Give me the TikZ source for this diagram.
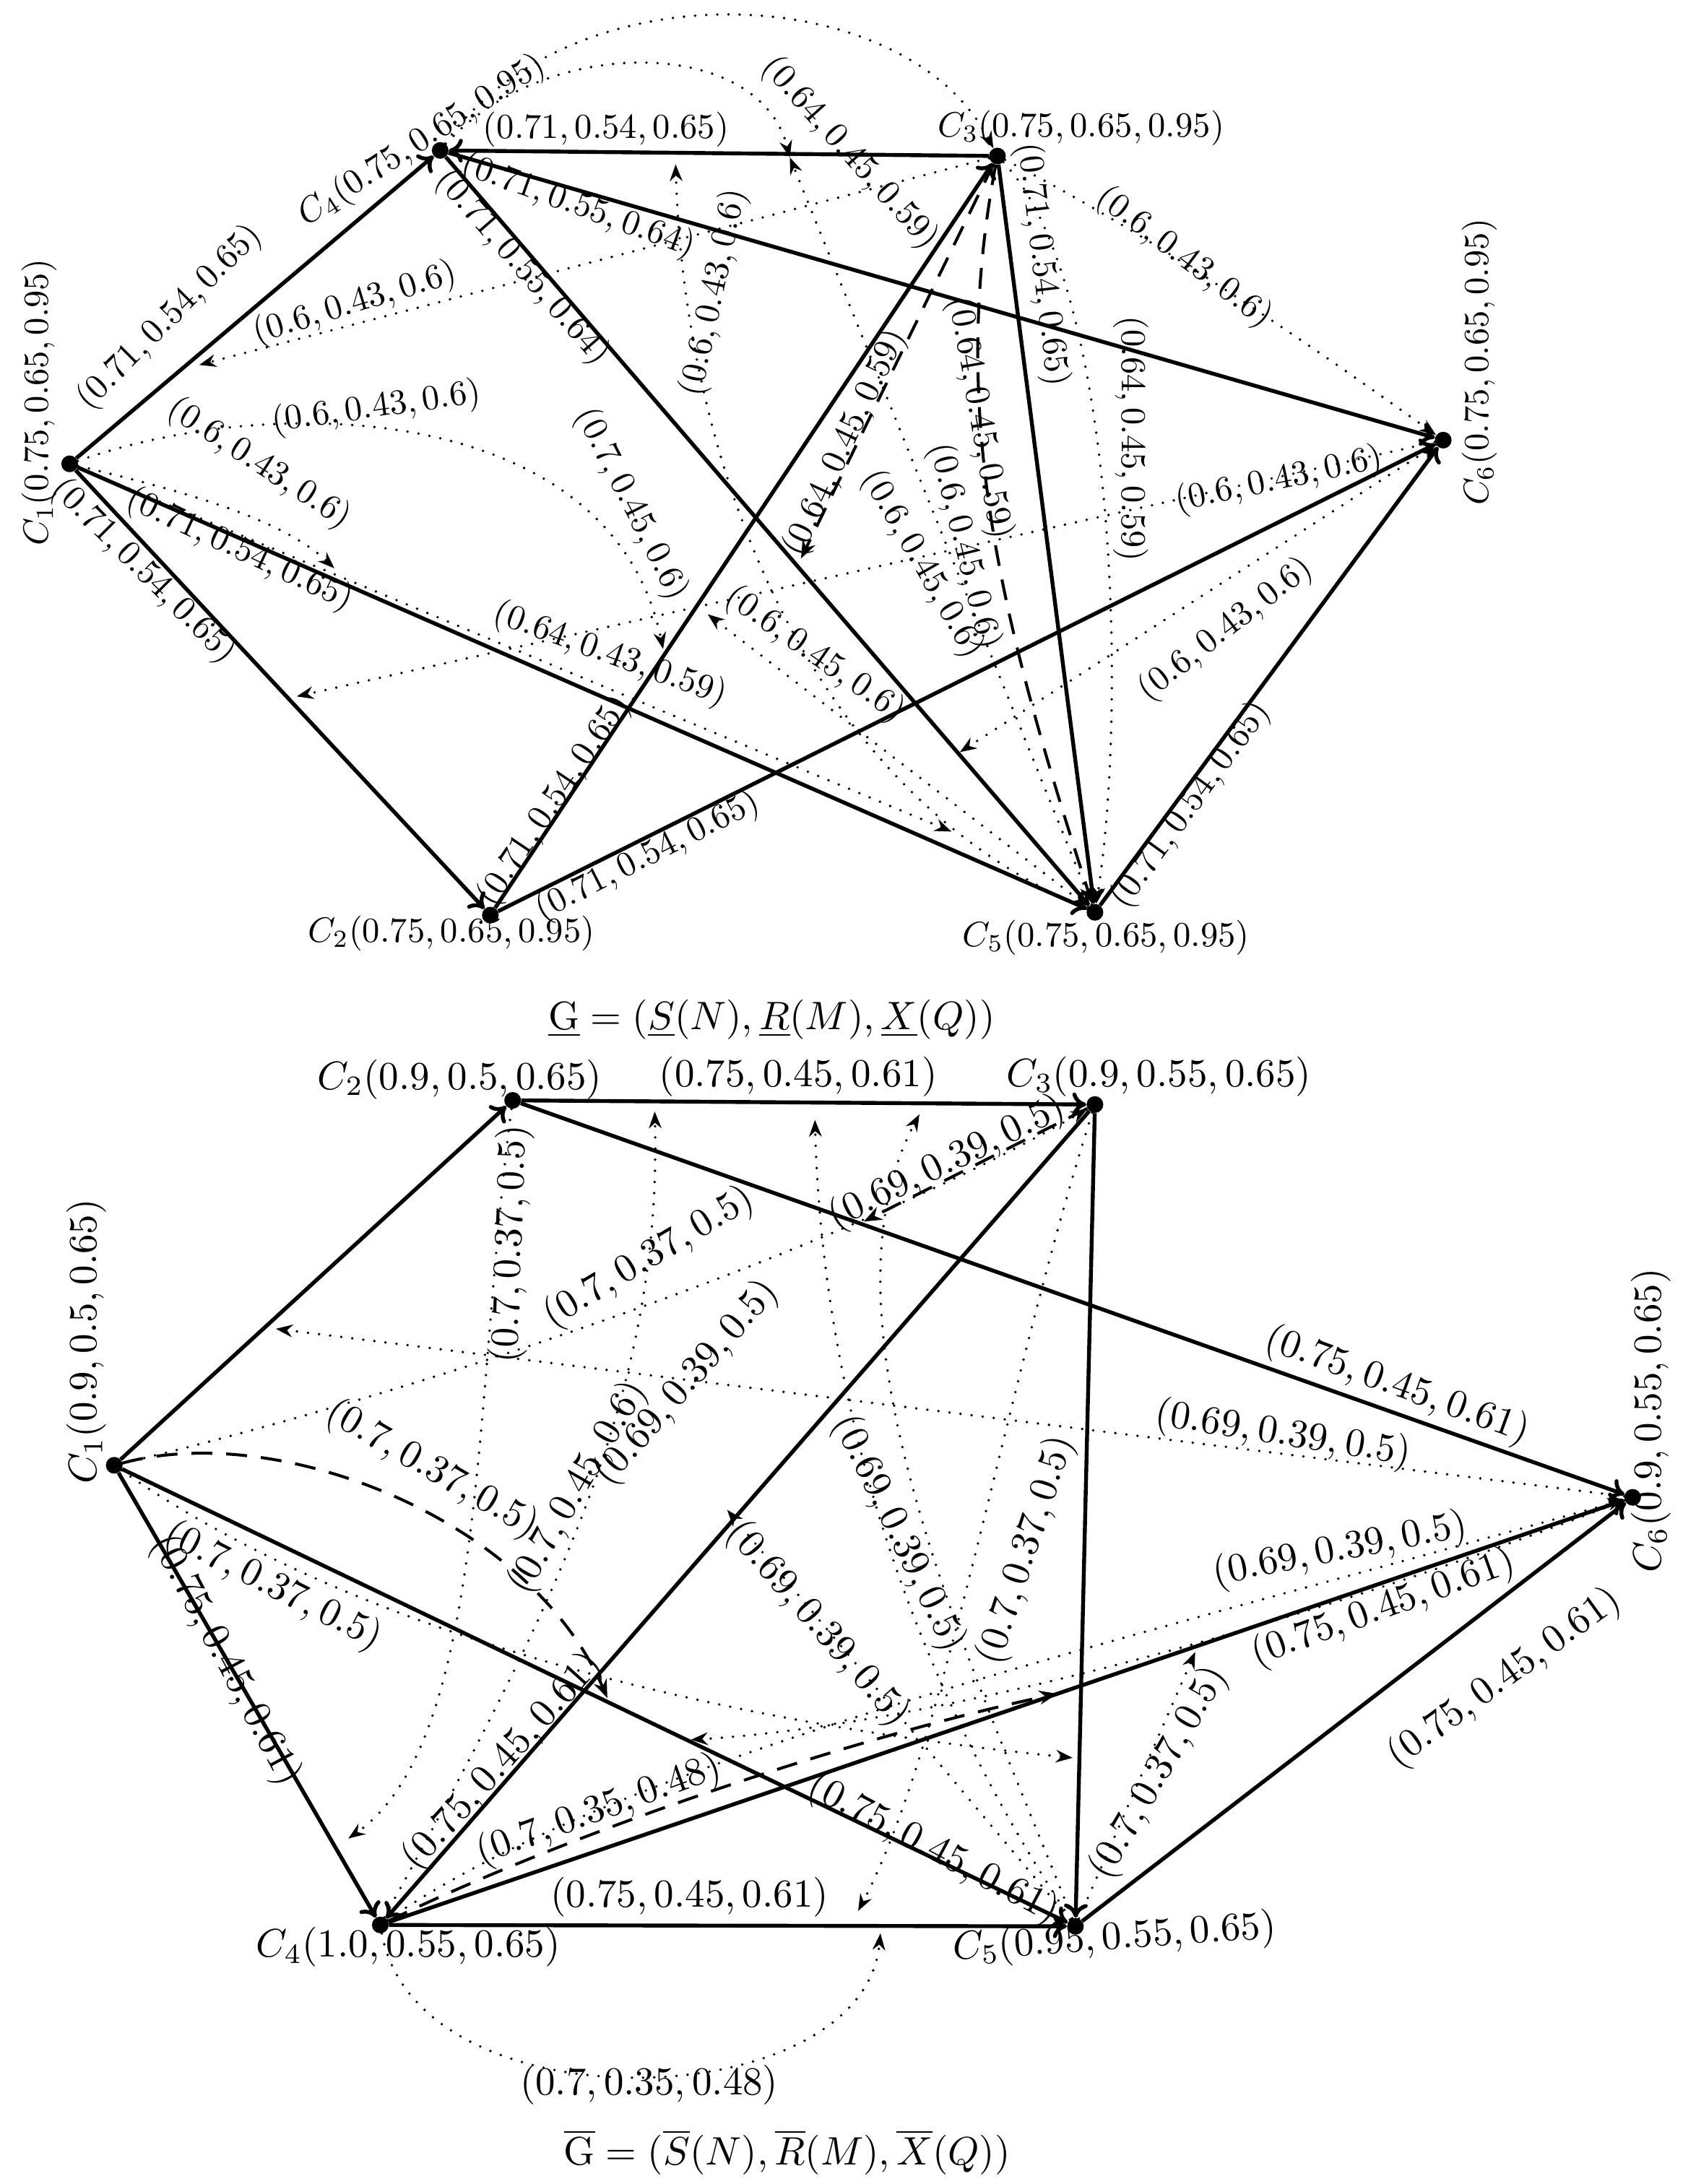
\documentclass[tikz,border=0pt]{standalone}
\usetikzlibrary{arrows.meta}
\begin{document}
\begin{tikzpicture}[x=1pt,y=-1pt,
  vtx/.style={circle, fill=black, inner sep=0pt, minimum size=12pt},
  thk/.style={line width=2.8pt, -{To[length=10pt,width=17pt]}},
  dt/.style={line width=2pt, dash pattern=on 0pt off 8pt, line cap=round, -{Stealth[length=12pt,width=9pt]}},
  ds/.style={line width=2.1pt, dash pattern=on 15pt off 10pt, -{Stealth[length=13pt,width=10pt]}},
  lt/.style={scale=2.52, inner sep=0pt},
  lb/.style={scale=2.85, inner sep=0pt}]
\fill[white] (0,0) rectangle (1217,1568);
\path[use as bounding box] (0,0) rectangle (1217,1568);

% ================= TOP GRAPH =================
\node[vtx] (C1) at (50,333) {};
\node[vtx] (C2) at (352,657) {};
\node[vtx] (C3) at (716,112) {};
\node[vtx] (C4) at (316,108) {};
\node[vtx] (C5) at (786,655) {};
\node[vtx] (C6) at (1036,316) {};

\node[lt, rotate=90] (C1l) at (28,289) {$C_1(0.75,0.65,0.95)$};
\node[lt] (C2l) at (324,670) {$C_2(0.75,0.65,0.95)$};
\node[lt] (C3l) at (776,92) {$C_3(0.75,0.65,0.95)$};
\node[lt, rotate=33] (C4l) at (303,101) {$C_4(0.75,0.65,0.95)$};
\node[lt] (C5l) at (794,673) {$C_5(0.75,0.65,0.95)$};
\node[lt, rotate=90] (C6l) at (1062,260) {$C_6(0.75,0.65,0.95)$};

\coordinate (a1) at (143,262);
\coordinate (a2) at (213,500);
\coordinate (a3) at (485,118);
\coordinate (a4) at (567,113);
\coordinate (a5) at (476,466);
\coordinate (a6) at (508,441);
\coordinate (a7) at (240,408);
\coordinate (a8) at (683,597);
\coordinate (a9) at (575,401);
\coordinate (a10) at (689,540);

% dotted / dashed
\draw[dt] (C4) .. controls (410,-25) and (650,-15) .. (C3);
\draw[dt] (C4) .. controls (390,25) and (545,25) .. (a4);
\draw[dt] (C3) -- (a1);
\draw[dt] (C3) .. controls (820,165) and (930,240) .. (C6);
\draw[dt] (C6) -- (a2);
\draw[dt] (C1) .. controls (200,280) and (440,290) .. (a5);
\draw[dt] (C1) .. controls (120,350) and (200,370) .. (a7);
\draw[dt] (C1) -- (a8);
\draw[dt] (C5) -- (a6);
\draw[dt] (C5) -- (a4);
\draw[dt] (C5) .. controls (560,560) and (490,300) .. (a3);
\draw[dt] (C3) .. controls (800,200) and (810,500) .. (C5);
\draw[dt] (C6) -- (a10);
\draw[ds] (C3) -- (a9);
\draw[ds] (C3) .. controls (680,300) and (720,450) .. (C5);

% thick
\draw[thk] (C1) -- (C4);
\draw[thk] (C3) -- (C4);
\draw[thk] (C4) -- (C6);
\draw[thk] (C4) -- (C5);
\draw[thk] (C1) -- (C2);
\draw[thk] (C1) -- (C5);
\draw[thk] (C2) -- (C3);
\draw[thk] (C2) -- (C6);
\draw[thk] (C3) -- (C5);
\draw[thk] (C5) -- (C6);

% labels top
\node[lt] (t1) at (435,93) {$(0.71,0.54,0.65)$};
\node[lt, rotate=-48] (t2) at (610,110) {$(0.64,0.45,0.59)$};
\node[lt, rotate=-20] (t3) at (415,148) {$(0.71,0.55,0.64)$};
\node[lt, rotate=45] (t4) at (122,228) {$(0.71,0.54,0.65)$};
\node[lt, rotate=17] (t5) at (255,218) {$(0.6,0.43,0.6)$};
\node[lt, rotate=-49] (t6) at (375,192) {$(0.71,0.55,0.64)$};
\node[lt, rotate=8] (t7) at (270,293) {$(0.6,0.43,0.6)$};
\node[lt, rotate=-33] (t8) at (186,333) {$(0.6,0.43,0.6)$};
\node[lt, rotate=-25] (t9) at (172,395) {$(0.71,0.54,0.65)$};
\node[lt, rotate=-45] (t10) at (103,410) {$(0.71,0.54,0.65)$};
\node[lt, rotate=-63] (t11) at (453,362) {$(0.7,0.45,0.6)$};
\node[lt, rotate=78] (t12) at (513,210) {$(0.6,0.43,0.6)$};
\node[lt, rotate=65] (t13) at (607,318) {$(0.64,0.45,0.59)$};
\node[lt, rotate=-80] (t14) at (703,300) {$(0.64,0.45,0.59)$};
\node[lt, rotate=-60] (t15) at (662,405) {$(0.6,0.45,0.6)$};
\node[lt, rotate=-76] (t16) at (692,392) {$(0.6,0.45,0.6)$};
\node[lt, rotate=-35] (t17) at (585,470) {$(0.6,0.45,0.6)$};
\node[lt, rotate=-20] (t18) at (438,470) {$(0.64,0.43,0.59)$};
\node[lt, rotate=-90] (t19) at (812,315) {$(0.64,0.45,0.59)$};
\node[lt, rotate=-83] (t20) at (748,190) {$(0.71,0.54,0.65)$};
\node[lt, rotate=-37] (t21) at (850,185) {$(0.6,0.43,0.6)$};
\node[lt, rotate=12] (t22) at (918,345) {$(0.6,0.43,0.6)$};
\node[lt, rotate=38] (t23) at (880,452) {$(0.6,0.43,0.6)$};
\node[lt, rotate=54] (t24) at (855,578) {$(0.71,0.54,0.65)$};
\node[lt, rotate=56] (t25) at (398,575) {$(0.71,0.54,0.65)$};
\node[lt, rotate=27] (t26) at (465,615) {$(0.71,0.54,0.65)$};

% ================= BOTTOM GRAPH =================
\node[lb] (G1) at (554,732) {$\underline{\mathrm{G}}=(\underline{S}(N),\underline{R}(M),\underline{X}(Q))$};
\node[lb] (G2) at (565,1545) {$\overline{\mathrm{G}}=(\overline{S}(N),\overline{R}(M),\overline{X}(Q))$};

\node[vtx] (D1) at (82,1052) {};
\node[vtx] (D2) at (368,790) {};
\node[vtx] (D3) at (786,793) {};
\node[vtx] (D4) at (273,1382) {};
\node[vtx] (D5) at (772,1383) {};
\node[vtx] (D6) at (1172,1075) {};

\node[lb, rotate=90] (D1l) at (62,963) {$C_1(0.9,0.5,0.65)$};
\node[lb] (D2l) at (330,775) {$C_2(0.9,0.5,0.65)$};
\node[lb] (D3l) at (832,773) {$C_3(0.9,0.55,0.65)$};
\node[lb] (D4l) at (293,1398) {$C_4(1.0,0.55,0.65)$};
\node[lb, rotate=4] (D5l) at (800,1392) {$C_5(0.95,0.55,0.65)$};
\node[lb, rotate=90] (D6l) at (1185,1020) {$C_6(0.9,0.55,0.65)$};

\coordinate (b1) at (198,954);
\coordinate (b2) at (470,798);
\coordinate (b3) at (585,804);
\coordinate (b4) at (660,800);
\coordinate (b5) at (250,1320);
\coordinate (b6) at (436,1219);
\coordinate (b7) at (759,1216);
\coordinate (b8) at (620,877);
\coordinate (b9) at (770,1262);
\coordinate (b10) at (522,1084);
\coordinate (b11) at (496,1249);
\coordinate (b12) at (632,1388);
\coordinate (b13) at (616,1372);
\coordinate (b14) at (858,1186);

\draw[dt] (D6) -- (b1);
\draw[dt] (D1) .. controls (250,1170) and (500,1235) .. (b9);
\draw[dt] (D4) .. controls (450,1260) and (800,1180) .. (D6);
\draw[dt] (D2) .. controls (340,1000) and (350,1250) .. (b5);
\draw[dt] (D4) .. controls (400,1150) and (475,1000) .. (b2);
\draw[dt] (D5) .. controls (650,1200) and (590,1000) .. (b3);
\draw[dt] (D5) .. controls (700,1200) and (580,950) .. (b4);
\draw[dt] (D1) .. controls (300,1000) and (600,900) .. (D3);
\draw[dt] (D5) -- (b10);
\draw[dt] (D6) .. controls (900,1180) and (650,1240) .. (b11);
\draw[dt] (D4) .. controls (300,1530) and (620,1520) .. (b12);
\draw[dt] (D3) .. controls (720,1000) and (680,1250) .. (b13);
\draw[dt] (D5) -- (b14);
\draw[ds] (D1) .. controls (200,1020) and (380,1090) .. (b6);
\draw[ds] (D4) .. controls (400,1320) and (600,1250) .. (b7);
\draw[ds] (D3) -- (b8);

\draw[thk] (D2) -- (D3);
\draw[thk] (D1) -- (D2);
\draw[thk] (D2) -- (D6);
\draw[thk] (D3) -- (D5);
\draw[thk] (D1) -- (D4);
\draw[thk] (D1) -- (D5);
\draw[thk] (D4) -- (D5);
\draw[thk] (D3) -- (D4);
\draw[thk] (D4) -- (D6);
\draw[thk] (D5) -- (D6);

\node[lb] (u1) at (573,773) {$(0.75,0.45,0.61)$};
\node[lb, rotate=88] (u2) at (367,893) {$(0.7,0.37,0.5)$};
\node[lb, rotate=31] (u3) at (466,903) {$(0.7,0.37,0.5)$};
\node[lb, rotate=26] (u4) at (680,835) {$(0.69,0.39,0.5)$};
\node[lb, rotate=-20] (u5) at (1003,995) {$(0.75,0.45,0.61)$};
\node[lb, rotate=-9] (u6) at (921,1030) {$(0.69,0.39,0.5)$};
\node[lb, rotate=11] (u7) at (962,1113) {$(0.69,0.39,0.5)$};
\node[lb, rotate=20] (u8) at (993,1155) {$(0.75,0.45,0.61)$};
\node[lb, rotate=36] (u9) at (1080,1205) {$(0.75,0.45,0.61)$};
\node[lb, rotate=60] (u10) at (832,1273) {$(0.7,0.37,0.5)$};
\node[lb, rotate=72] (u11) at (737,1113) {$(0.7,0.37,0.5)$};
\node[lb, rotate=-64] (u12) at (645,1101) {$(0.69,0.39,0.5)$};
\node[lb, rotate=-49] (u13) at (587,1166) {$(0.69,0.39,0.5)$};
\node[lb, rotate=49] (u14) at (493,993) {$(0.69,0.39,0.5)$};
\node[lb, rotate=60] (u15) at (415,1068) {$(0.7,0.45,0.6)$};
\node[lb, rotate=-27] (u16) at (196,1139) {$(0.7,0.37,0.5)$};
\node[lb, rotate=-62] (u17) at (162,1192) {$(0.75,0.45,0.61)$};
\node[lb, rotate=48] (u18) at (361,1265) {$(0.75,0.45,0.61)$};
\node[lb, rotate=20] (u19) at (430,1300) {$(0.7,0.35,0.48)$};
\node[lb] (u20) at (495,1362) {$(0.75,0.45,0.61)$};
\node[lb, rotate=-28] (u21) at (670,1328) {$(0.75,0.45,0.61)$};
\node[lb] (u22) at (466,1497) {$(0.7,0.35,0.48)$};
\node[lb, rotate=-30] (u23) at (310,1055) {$(0.7,0.37,0.5)$};
\end{tikzpicture}
\end{document}
